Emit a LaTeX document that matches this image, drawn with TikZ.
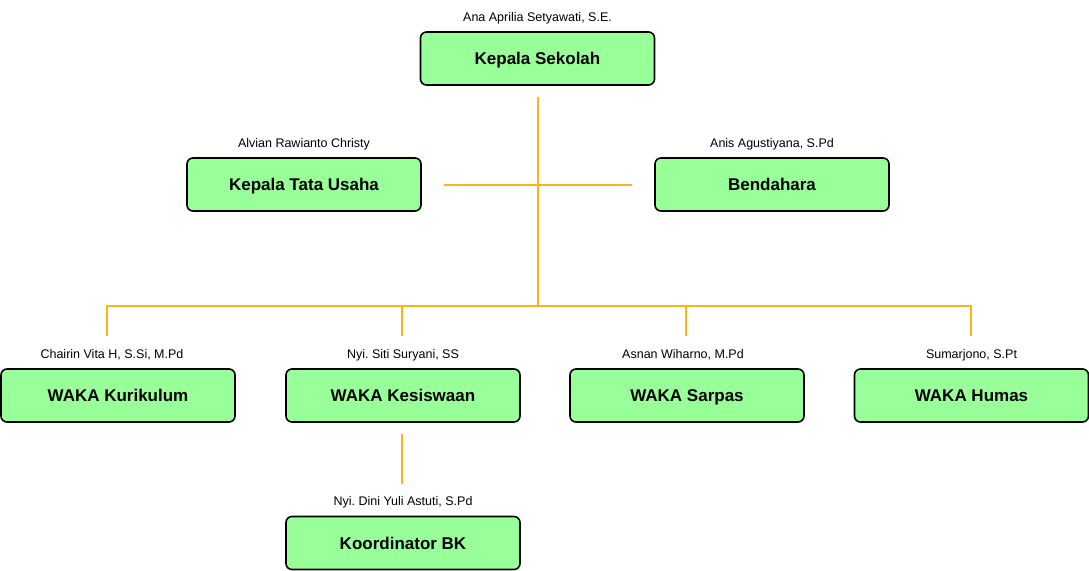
\documentclass[tikz,border=0pt]{standalone}
\usepackage{fontspec}
\setmainfont{Liberation Sans}
\usetikzlibrary{positioning}
\definecolor{boxgreen}{HTML}{99FF99}
\definecolor{lineorange}{HTML}{FFB31A}
\frenchspacing

\begin{document}
\begin{tikzpicture}
    \useasboundingbox (0,0) rectangle (1089pt,-570pt);
    \begin{scope}[node distance=30pt, on grid, rounded corners=6pt, text centered,
    		block/.style={rectangle,draw,line width=1.6pt,fill=boxgreen,minimum width=234pt,minimum height=53pt,text height=12.2pt,text depth=0pt,font=\fontsize{17}{20}\selectfont\bfseries},
    		person/.style={text height=9pt,text depth=0pt,font=\fontsize{12.5}{14}\selectfont},
    		link/.style={lineorange, line width=2pt, rounded corners=0pt}]
    
    \node[block](kepsek) at (537.5pt,-58.5pt)
    {Kepala Sekolah};
    \node[block,below left=126pt and 233.5pt of kepsek](tu)
    {Kepala Tata Usaha};
    \node[block,below right=126pt and 234.5pt of kepsek](bend)
    {Bendahara};
    \node[block,below left=337pt and 419.5pt of kepsek](kur)
    {WAKA Kurikulum};
    \node[block,right=285pt of kur](kes)
    {WAKA Kesiswaan};
    \node[block,right=284pt of kes](sar)
    {WAKA Sarpas};
    \node[block,right=284.5pt of sar](hum)
    {WAKA Humas};
    \node[block,below=147.5pt of kes](bk)
    {Koordinator BK};
    
    % names above the boxes
    \node[person,above=42pt of kepsek](kepsekname) {Ana Aprilia Setyawati, S.E.};
    \node[person,above=42pt of tu](tuname) {Alvian Rawianto Christy};
    \node[person,above=42pt of bend](bendname) {Anis Agustiyana, S.Pd};
    \node[person,above=42pt of kur,xshift=-6pt](kurname) {Chairin Vita H, S.Si, M.Pd};
    \node[person,above=42pt of kes](kesname) {Nyi. Siti Suryani, SS};
    \node[person,above=42pt of sar,xshift=-4pt](sarname) {Asnan Wiharno, M.Pd};
    \node[person,above=42pt of hum](humname) {Sumarjono, S.Pt};
    \node[person,above=42pt of bk](bkname) {Nyi. Dini Yuli Astuti, S.Pd};
    
    \coordinate[below=220pt of kepsek.south](bus);
    
    \draw[link] ([yshift=-11pt]kepsek.south) -- (bus);
    \draw[link] ([xshift=22pt]tu.east) -- ([xshift=-22pt]bend.west);
    \draw[link] ([xshift=-11pt,yshift=32pt]kur.north) |- ([xshift=-1pt]hum.north |- bus) -- ([xshift=-1pt,yshift=32pt]hum.north);
    \draw[link] ([xshift=-1pt,yshift=32pt]kes.north) -- ([xshift=-1pt]kes.north |- bus);
    \draw[link] ([xshift=-1pt,yshift=32pt]sar.north) -- ([xshift=-1pt]sar.north |- bus);
    \draw[link] ([xshift=-1pt,yshift=-11pt]kes.south) -- ([xshift=-1pt,yshift=32pt]bk.north);
    
    \end{scope}
\end{tikzpicture}
\end{document}
